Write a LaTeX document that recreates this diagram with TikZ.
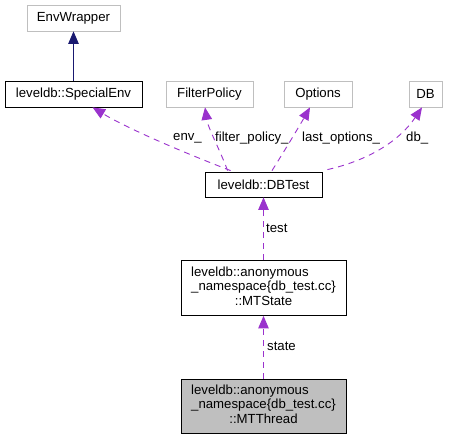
\documentclass[tikz,border=0pt]{standalone}
\usepackage{fontspec}
\setmainfont{Liberation Sans}
\usetikzlibrary{arrows.meta}
\definecolor{edgepurple}{HTML}{9A32CD}
\definecolor{navy}{HTML}{191970}
\definecolor{graybox}{HTML}{BFBFBF}
\newcommand{\threelines}[3]{\begin{tabular}{@{}l@{}}#1\\#2\\\multicolumn{1}{@{}c@{}}{#3}\end{tabular}}
\begin{document}
\begin{tikzpicture}[x=1bp,y=-1bp,
  every node/.style={font=\fontsize{13.2bp}{14.3bp}\selectfont, inner sep=0pt},
  cls/.style={draw=black, line width=0.8bp, minimum height=26bp, align=center},
  ext/.style={draw=graybox, line width=0.8bp, minimum height=26bp, align=center},
  cur/.style={cls, fill=graybox},
  inh/.style={draw=navy, line width=0.9bp, -{Triangle[length=12.5bp,width=10.5bp]}},
  usage/.style={draw=edgepurple, line width=0.9bp, dash pattern=on 6bp off 5bp, -{Triangle[length=12.5bp,width=10.5bp]}},
  lbl/.style={font=\fontsize{13.2bp}{14.3bp}\selectfont, text=black}
]
\useasboundingbox (0,0) rectangle (456,440);
\fill[white] (0,0) rectangle (456,440);

\node[ext, minimum width=93bp] (envw) at (73.5,18) {EnvWrapper};
\node[cls, minimum width=137bp] (senv) at (73.5,94) {leveldb::SpecialEnv};
\node[ext, minimum width=87bp] (fpol) at (209.5,94) {FilterPolicy};
\node[ext, minimum width=68bp] (opts) at (318,94) {Options};
\node[ext, minimum width=33bp] (db) at (425.5,94) {DB};
\node[cls, minimum width=117bp, minimum height=25bp] (dbt) at (263.5,184.5) {leveldb::DBTest};
\node[cls, minimum width=165bp, minimum height=55bp] (mts) at (263.5,288) {\threelines{leveldb::anonymous}{\_namespace\{db\_test.cc\}}{::MTState}};
\node[cur, minimum width=165bp, minimum height=54bp] (mtt) at (263.5,406) {\threelines{leveldb::anonymous}{\_namespace\{db\_test.cc\}}{::MTThread}};

\draw[inh] (senv.north) -- (envw.south);

\draw[usage] ([xshift=26bp,yshift=1bp]dbt.north west) .. controls (190,155) and (130,130) .. ([xshift=88bp]senv.south west);
\draw[usage] ([xshift=23bp,yshift=1bp]dbt.north west) .. controls (220,150) and (208,128) .. ([xshift=-4.5bp]fpol.south);
\draw[usage] ([xshift=8.5bp,yshift=1bp]dbt.north) .. controls (285,150) and (300,125) .. ([xshift=-8bp]opts.south);
\draw[usage] ([xshift=5bp,yshift=2bp]dbt.north east) .. controls (370,160) and (400,140) .. ([xshift=-3.5bp]db.south);
\draw[usage] (mts.north) -- (dbt.south);
\draw[usage] (mtt.north) -- (mts.south);

\node[lbl, anchor=west] (lenv) at (173,138) {env\_};
\node[lbl, anchor=west] (lfp) at (215,138) {filter\_policy\_};
\node[lbl, anchor=west] (llo) at (302,138) {last\_options\_};
\node[lbl, anchor=west] (ldb) at (406,138) {db\_};
\node[lbl, anchor=west] (ltest) at (266,228) {test};
\node[lbl, anchor=west] (lstate) at (267,346) {state};
\end{tikzpicture}
\end{document}
